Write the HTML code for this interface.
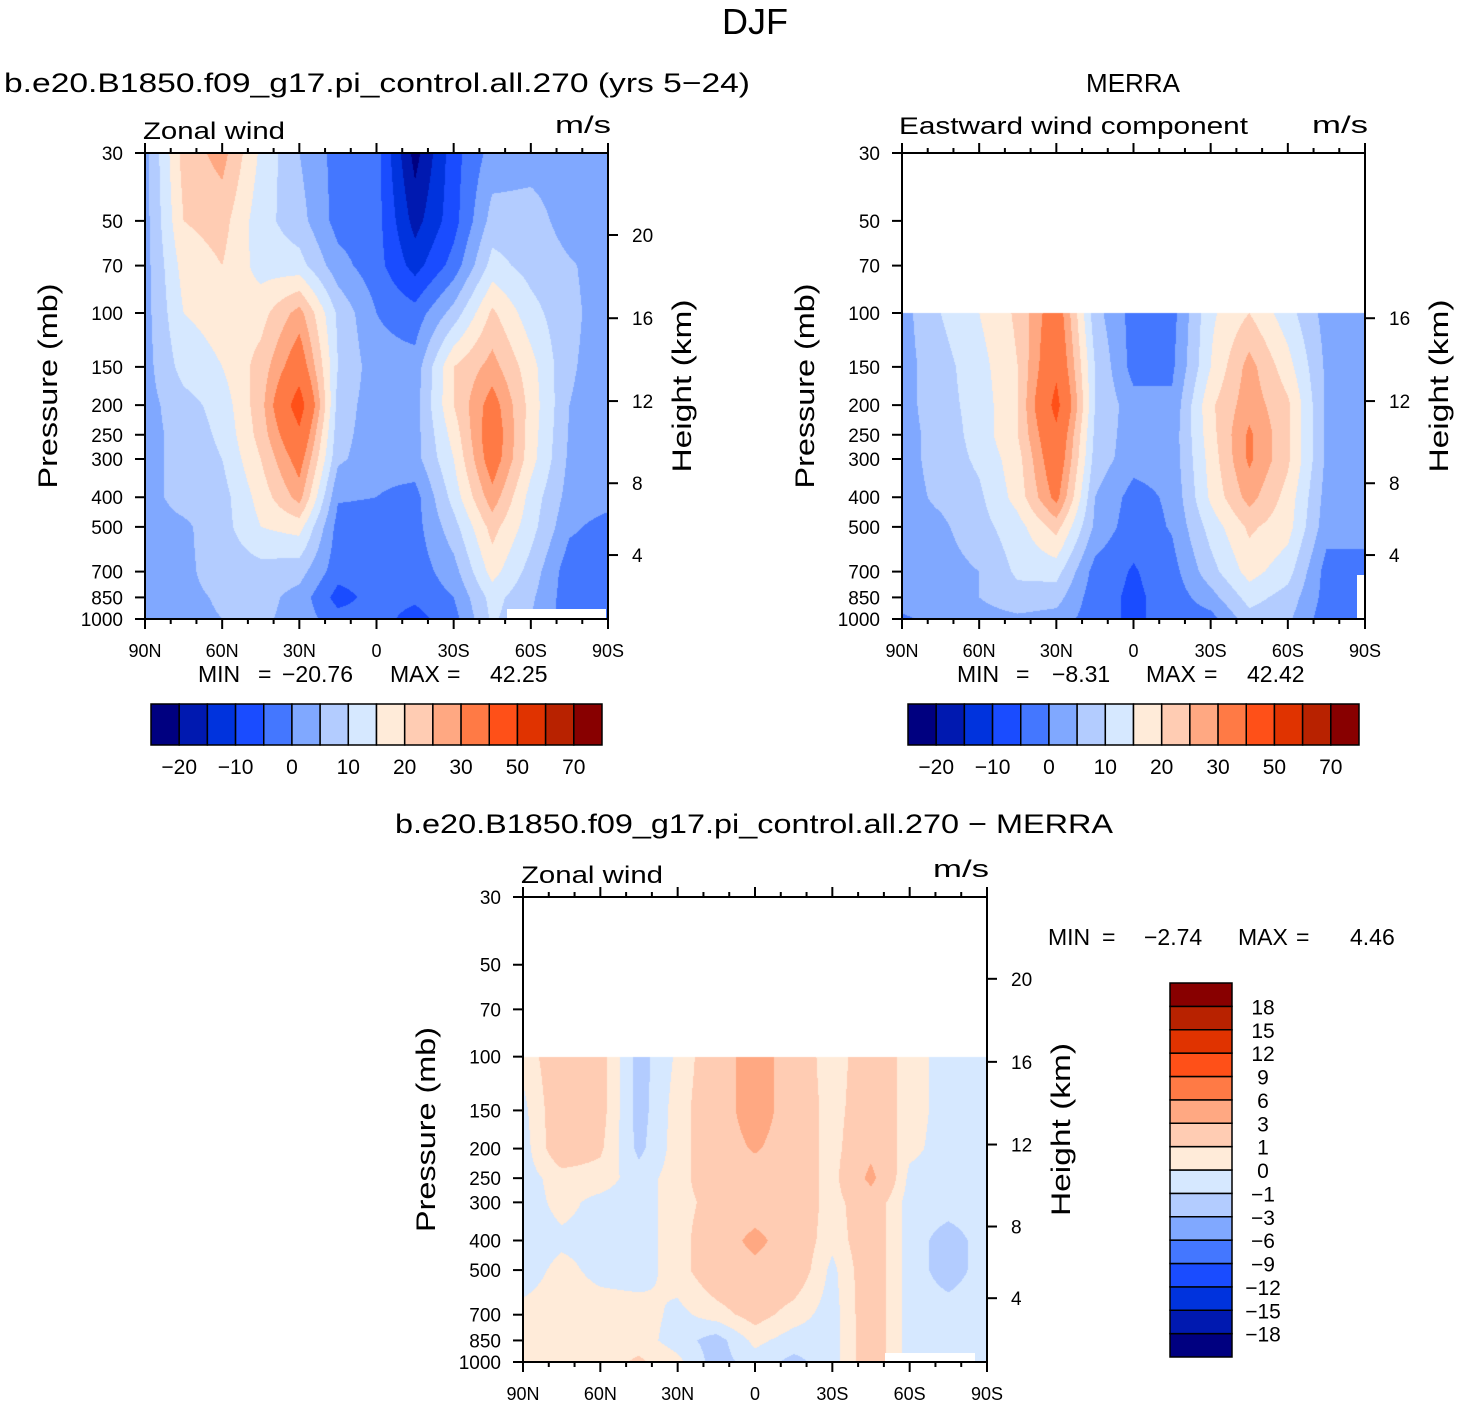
<!DOCTYPE html>
<html><head><meta charset="utf-8">
<style>
html,body{margin:0;padding:0;background:#fff;}
#wrap{position:relative;width:1459px;height:1406px;overflow:hidden;font-family:"Liberation Sans",sans-serif;}
canvas{position:absolute;}
svg{position:absolute;left:0;top:0;}
</style></head>
<body>
<div id="wrap">
<svg id="ov" width="1459" height="1406"></svg>
</div>
<script>
const lats = ["90N","75N","60N","45N","30N","15N","0","15S","30S","45S","60S","75S","90S"];
const pLevels1 = [30,50,70,100,150,200,250,300,400,500,700,850,1000];
const pLevels2 = [100,150,200,250,300,400,500,700,850,1000];
const pTicks = [30,50,70,100,150,200,250,300,400,500,700,850,1000];
const xTickLabels = ["90N","60N","30N","0","30S","60S","90S"];
const heightTicks1 = [20,16,12,8,4];
const heightTicks2 = [16,12,8,4];
const heightTickPress1 = [55.6,104,194,360,618];
const heightTickPress2 = [104,194,360,618];
const levelsA = [-20,-15,-10,-5,0,5,10,15,20,25,30,40,50,60,70];
const levelsB = [-18,-15,-12,-9,-6,-3,-1,0,1,3,6,9,12,15,18];
const cbLabelsA = ["−20","−10","0","10","20","30","50","70"];
const cbLabelsB = ["18","15","12","9","6","3","1","0","−1","−3","−6","−9","−12","−15","−18"];
const palette = ['#000080','#0019b0','#0033dd','#1a4cff','#4477ff','#80a8ff','#b3ccff','#d6e8ff','#ffebd9','#ffccb3','#ffa882','#ff7a45','#ff5018','#e03300','#b82200','#880000'];

const modelU = [
[3,22,27,14,5,-2,-3,-22,-7,2,3,3,3],
[3,20,22,12,7,-2,-3,-17,-7,7,7,3,3],
[3,17,20,13,12,2,-3,-12,-3,12,8,5.5,3],
[3,15,17,18,27,9,0,-3,7,21,12,6,3],
[3,12,15,22,35,10,2,2,20,27,17,5.5,3],
[3,8,12,23,45,8,2,3,20,33,18,5,3],
[3,7,11,22,38,7,2,3,17,35,17.5,4.5,3],
[3,7,10,20,33,6,2,3,15,34,17,4,3],
[3,7,8,17,27,0.5,0,-2,12,28,13,3,2],
[3,4,8,15,17,-2,-2,-2,8,22,12,1,-2],
[3,4,7,8,7,-3,-3,-3,3,17,8,-3,-3],
[3,4,5.5,7,3,-7,-3,-4,0,12,6,-3,-3],
[3,4,5,6,3,-3,-3,-7,-2,11,5,-3,-3]];
const merraU = [
[3,10,15,21,35,7,-2,-2,14,20,12,3,3],
[3,8,13,20,38,10,-2,-1,15,27,17,4,3],
[3,8,12,20,43,10,2,1,19,28,21,4,3],
[3,7,12,20,38,9,2,2,18,31,21,4,3],
[3,7,11,18,36,8,2,2,17,31,21,4,3],
[3,6,9,17,32,5,-2,1,16,27,18,3,3],
[3,4,8,13,22,4,-3,0.5,12,21,17,2,2],
[3,3,5,11,12,-2,-5.5,-2,8,17,12,-2,-2],
[3,3,5,8,7,-3,-6,-3,3,12,8,-2,-3],
[-1,2,3,4,3,-3,-6,-3,-2,8,6,-3,-3]];
const diffU = [
[0.3,2,1.5,-1.5,0.2,2,4,2,0.3,2,0.5,-0.5,-0.5],
[-0.3,2,1.5,-1.5,0.5,2,4,2,0.5,2,0.5,-0.5,-0.5],
[-0.5,2,1.2,-1.3,0.5,2,3.2,2,0.5,2.5,0.3,-0.5,-0.5],
[-0.5,0.5,0.5,-0.5,0.5,2,2,2,0.5,3.5,-0.3,-0.5,-0.5],
[-0.5,0.3,-0.3,-0.5,0.5,1.5,2,2,0.5,2,-0.5,-0.5,-0.5],
[-0.5,-0.2,-0.3,-0.5,0.5,2,3.5,2,0.3,2,-0.5,-1.5,-0.5],
[-0.5,0.3,-0.3,-0.5,0.5,2,2.5,2,-0.3,2,-0.5,-1.5,-0.5],
[0.3,0.5,0.5,0.5,-0.3,0.5,1.5,0.5,-0.5,2,-0.5,-0.5,-0.5],
[0.5,0.5,0.5,0.5,-0.5,-1.5,0.3,-0.5,-0.5,2,-0.5,-0.5,-0.5],
[0.5,0.5,0.5,1.2,0.3,-1.5,-0.5,-1.3,-0.5,2,-0.5,-0.5,-0.5]];

const NS="http://www.w3.org/2000/svg";
const ov=document.getElementById('ov');
const wrap=document.getElementById('wrap');
function mk(tag,attrs,parent){const e=document.createElementNS(NS,tag);for(const k in attrs)e.setAttribute(k,attrs[k]);(parent||ov).appendChild(e);return e;}
function txt(s,x,y,size,anchor,extra,parent){const t=mk('text',Object.assign({x:x,y:y,'font-size':size,'text-anchor':anchor||'start','font-family':'Liberation Sans, sans-serif',fill:'#000'},extra||{}),parent);t.textContent=s;return t;}

const L30=Math.log(30), LR=Math.log(1000/30);
function yOf(P,p){return P.y0+(Math.log(p)-L30)/LR*P.h;}
function xOfLat(P,lat){return P.x0+(90-lat)/180*P.w;}
function hex2rgb(h){return [parseInt(h.substr(1,2),16),parseInt(h.substr(3,2),16),parseInt(h.substr(5,2),16)];}

function drawField(P,values,plev,levels,name){
  const c=document.createElement('canvas');
  c.width=P.w;c.height=P.h;c.style.left=P.x0+'px';c.style.top=P.y0+'px';
  
  
  wrap.insertBefore(c,ov);
  const ctx=c.getContext('2d');const img=ctx.createImageData(P.w,P.h);
  const rowsY=plev.map(p=>yOf(P,p)-P.y0);
  const rgb=palette.map(hex2rgb);
  for(let py=0;py<P.h;py++){
    const Y=py+0.5;
    if(Y<rowsY[0]){continue;}
    let r=0;while(r<rowsY.length-2&&Y>rowsY[r+1])r++;
    let fy=(Y-rowsY[r])/(rowsY[r+1]-rowsY[r]);fy=Math.max(0,Math.min(1,fy));
    for(let px=0;px<P.w;px++){
      const fx=(px+0.5)/P.w*(lats.length-1);
      let i=Math.min(Math.floor(fx),lats.length-2);const tx=fx-i;
      const v=(values[r][i]*(1-tx)+values[r][i+1]*tx)*(1-fy)+(values[r+1][i]*(1-tx)+values[r+1][i+1]*tx)*fy;
      let k=0;while(k<levels.length&&v>=levels[k])k++;
      const col=rgb[k];const o=(py*P.w+px)*4;
      img.data[o]=col[0];img.data[o+1]=col[1];img.data[o+2]=col[2];img.data[o+3]=255;
    }
  }
  ctx.putImageData(img,0,0);
}

function axes(P,opts){
  const g=mk('g',{});
  
  
  if(opts.blank){const b=mk('rect',{x:opts.blank[0],y:opts.blank[1],width:opts.blank[2],height:opts.blank[3],fill:'#fff'},g);
    
    }
  const fr=mk('rect',{x:P.x0,y:P.y0,width:P.w,height:P.h,fill:'none',stroke:'#000','stroke-width':2},g);
  
  
  for(let lat=90;lat>=-90;lat-=10){
    const x=xOfLat(P,lat);const major=(lat%30===0);const len=major?10:5;
    mk('line',{x1:x,y1:P.y0,x2:x,y2:P.y0-len,stroke:'#000','stroke-width':2},g);
    mk('line',{x1:x,y1:P.y0+P.h,x2:x,y2:P.y0+P.h+len,stroke:'#000','stroke-width':2},g);
  }
  xTickLabels.forEach((s,k)=>{const t=txt(s,xOfLat(P,90-30*k),P.y0+P.h+38,18,'middle',{},g);
    
    });
  pTicks.forEach(p=>{const y=yOf(P,p);
    mk('line',{x1:P.x0,y1:y,x2:P.x0-10,y2:y,stroke:'#000','stroke-width':2},g);
    const t=txt(String(p),P.x0-22,y+7,19,'end',{},g);
    
    });
  opts.hTicks.forEach((h,k)=>{const y=yOf(P,opts.hPress[k]);
    mk('line',{x1:P.x0+P.w,y1:y,x2:P.x0+P.w+10,y2:y,stroke:'#000','stroke-width':2},g);
    const t=txt(String(h),P.x0+P.w+24,y+7,19,'start',{},g);
    
    });
  const yc=P.y0+P.h/2;
  const pt=txt('Pressure (mb)',0,0,27,'middle',{transform:`translate(${P.x0-88},${yc}) rotate(-90)`,textLength:205,lengthAdjust:'spacingAndGlyphs'},g);
  
  
  const ht=txt('Height (km)',0,0,27,'middle',{transform:`translate(${P.x0+P.w+83},${yc}) rotate(-90)`,textLength:173,lengthAdjust:'spacingAndGlyphs'},g);
  
  
}

function hColorbar(x,y,w,h,labels,name){
  const g=mk('g',{});
  
  
  const n=palette.length,bw=w/n;
  palette.forEach((c,i)=>{const r=mk('rect',{x:x+i*bw,y:y,width:bw,height:h,fill:c,stroke:'#000','stroke-width':1.5},g);
    
    });
  labels.forEach((s,k)=>{const t=txt(s,x+(1+2*k)*bw,y+h+29,21,'middle',{},g);
    
    });
}
function vColorbar(x,y,w,h,labels,name){
  const g=mk('g',{});
  
  
  const n=palette.length,bh=h/n;
  palette.forEach((c,i)=>{const r=mk('rect',{x:x,y:y+(n-1-i)*bh,width:w,height:bh,fill:c,stroke:'#000','stroke-width':1.5},g);
    
    });
  labels.forEach((s,k)=>{const t=txt(s,x+w+31,y+(k+1)*bh+8,21,'middle',{},g);
    
    });
}
function minmax(parts,y,name){
  const g=mk('g',{});
  
  
  parts.forEach(p=>{const t=txt(p[0],p[1],y,23,p[2]||'start',{},g);
    
    });
}

const P1={x0:145,y0:153,w:463,h:466};
const P2={x0:902,y0:153,w:463,h:466};
const P3={x0:523,y0:897,w:464,h:465};

drawField(P1,modelU,pLevels1,levelsA,'model-contour-field');
drawField(P2,merraU,pLevels2,levelsA,'merra-contour-field');
drawField(P3,diffU,pLevels2,levelsB,'difference-contour-field');

axes(P1,{name:'model',hTicks:heightTicks1,hPress:heightTickPress1,blank:[507,609,99,9]});
axes(P2,{name:'merra',hTicks:heightTicks2,hPress:heightTickPress2,blank:[1357,575,7,43]});
axes(P3,{name:'diff',hTicks:heightTicks1,hPress:heightTickPress1,blank:[885,1353,90,8]});

let t;
t=txt('DJF',755,34,36,'middle');


t=txt('b.e20.B1850.f09_g17.pi_control.all.270 (yrs 5−24)',4,92,27,'start',{textLength:746,lengthAdjust:'spacingAndGlyphs'});


t=txt('Zonal wind',143,139,24,'start',{textLength:142,lengthAdjust:'spacingAndGlyphs'});


t=txt('m/s',555,133,24,'start',{textLength:56,lengthAdjust:'spacingAndGlyphs'});


minmax([['MIN',198],['=',258],['−20.76',282],['MAX',390],['=',447],['42.25',490]],682,'model-min-max');

t=txt('MERRA',1133,92,26,'middle');


t=txt('Eastward wind component',899,134,24,'start',{textLength:349,lengthAdjust:'spacingAndGlyphs'});


t=txt('m/s',1312,133,24,'start',{textLength:56,lengthAdjust:'spacingAndGlyphs'});


minmax([['MIN',957],['=',1016],['−8.31',1052],['MAX',1146],['=',1204],['42.42',1247]],682,'merra-min-max');

t=txt('b.e20.B1850.f09_g17.pi_control.all.270 − MERRA',395,833,27,'start',{textLength:718,lengthAdjust:'spacingAndGlyphs'});


t=txt('Zonal wind',521,883,24,'start',{textLength:142,lengthAdjust:'spacingAndGlyphs'});


t=txt('m/s',933,877,24,'start',{textLength:56,lengthAdjust:'spacingAndGlyphs'});


minmax([['MIN',1048],['=',1102],['−2.74',1144],['MAX',1238],['=',1296],['4.46',1350]],945,'difference-min-max');

hColorbar(151,704,451,41,cbLabelsA,'model-colorbar');
hColorbar(908,704,451,41,cbLabelsA,'merra-colorbar');
vColorbar(1170,983,62,374,cbLabelsB,'difference-colorbar');
</script>
</body></html>
